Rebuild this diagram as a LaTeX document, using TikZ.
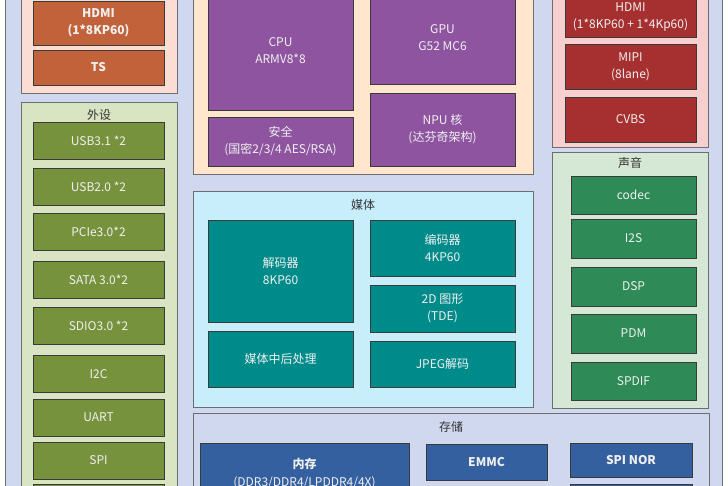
\documentclass[tikz,border=0pt]{standalone}
\usepackage{fontspec}
\setmainfont{Noto Sans CJK SC}
\usetikzlibrary{positioning}
\definecolor{socbg}{HTML}{D0D8F0}
\definecolor{panebd}{HTML}{6E6E6E}
\definecolor{blkbd}{HTML}{3A3A3A}
\definecolor{blktext}{HTML}{F0F0F0}
\definecolor{ttlink}{HTML}{333333}
\definecolor{vidlbg}{HTML}{FBDDD3}
\definecolor{vidlfill}{HTML}{C2623A}
\definecolor{vidrbg}{HTML}{F8CFCF}
\definecolor{vidrfill}{HTML}{A63030}
\definecolor{corebg}{HTML}{FFE6CC}
\definecolor{corefill}{HTML}{8E54A0}
\definecolor{perbg}{HTML}{D8E4C2}
\definecolor{perfill}{HTML}{76923C}
\definecolor{audbg}{HTML}{D5E8D6}
\definecolor{audfill}{HTML}{2E8B57}
\definecolor{medbg}{HTML}{C8EEFC}
\definecolor{medfill}{HTML}{008B8B}
\definecolor{memfill}{HTML}{3460A0}
\tikzset{
  pane/.style={draw=panebd, line width=0.9pt, inner sep=0pt, anchor=north west},
  ttl/.style={font=\fontsize{12}{15}\selectfont, text=ttlink},
  blk/.style={draw=blkbd, line width=0.9pt, align=center, inner sep=0pt,
    font=\fontsize{12}{17}\selectfont, text=blktext},
  vidlbox/.style={blk, fill=vidlfill, font=\fontsize{12}{17}\selectfont\bfseries, minimum width=131},
  vidrbox/.style={blk, fill=vidrfill, minimum width=131},
  corebox/.style={blk, fill=corefill, minimum width=145},
  perbox/.style={blk, fill=perfill, minimum width=131, minimum height=37},
  audbox/.style={blk, fill=audfill, minimum width=125, minimum height=39},
  medbox/.style={blk, fill=medfill, minimum width=145},
  membox/.style={blk, fill=memfill, font=\fontsize{12}{18}\selectfont\bfseries}
}

\begin{document}
\begin{tikzpicture}[x=1pt, y=-1pt]
\clip (0,0) rectangle (728,485);
% soc outline and panes
\node[pane, fill=socbg, minimum width=717, minimum height=520] (soc) at (5,-10) {};
\node[pane, fill=vidlbg, minimum width=156, minimum height=103] (vidl) at (21,-10) {};
\node[pane, fill=perbg, minimum width=156, minimum height=400] (per) at (21,102) {};
\node[pane, fill=corebg, minimum width=340, minimum height=184] (core) at (193,-10) {};
\node[pane, fill=vidrbg, minimum width=156, minimum height=157] (vidr) at (552,-10) {};
\node[pane, fill=audbg, minimum width=156, minimum height=256] (aud) at (552,152) {};
\node[pane, fill=medbg, minimum width=340, minimum height=216] (med) at (193,191) {};
\node[pane, fill=socbg, minimum width=516, minimum height=100] (mem) at (193,413) {};
\node[ttl] (perT) at (99,115) {外设};
\node[ttl] (audT) at (630,163) {声音};
\node[ttl] (medT) at (363,205) {媒体};
\node[ttl] (memT) at (451,427) {存储};

% video out, left
\node[vidlbox, minimum height=44] (hdmiA) at (98.5,23) {HDMI\\(1*8KP60)};
\node[vidlbox, minimum height=35] (ts) at (98.5,67.5) {TS};

% cpu core
\node[corebox, minimum height=118] (cpu) at (280.5,51) {CPU\\ARMV8*8};
\node[corebox, minimum height=49] (sec) at (280.5,141.5) {安全\\(国密2/3/4 AES/RSA)};
\node[corebox, minimum height=92] (gpu) at (442.5,38) {GPU\\G52 MC6};
\node[corebox, minimum height=73] (npu) at (442.5,129.5) {NPU 核\\(达芬奇架构)};

% video out, right
\node[vidrbox, minimum height=41] (hdmiB) at (630.5,16.5) {HDMI\\(1*8KP60 + 1*4Kp60)};
\node[vidrbox, minimum height=45] (mipi) at (630.5,66.5) {MIPI\\(8lane)};
\node[vidrbox, minimum height=45] (cvbs) at (630.5,119.5) {CVBS};

% peripherals
\node[perbox] (usb3) at (98.5,141) {USB3.1 *2};
\node[perbox] (usb2) at (98.5,187) {USB2.0 *2};
\node[perbox] (pcie) at (98.5,231.5) {PCIe3.0*2};
\node[perbox] (sata) at (98.5,280) {SATA 3.0*2};
\node[perbox] (sdio) at (98.5,326) {SDIO3.0 *2};
\node[perbox] (iic) at (98.5,374) {I2C};
\node[perbox] (uart) at (98.5,417.5) {UART};
\node[perbox] (spi) at (98.5,460.5) {SPI};
\node[perbox, anchor=north] (perX) at (98.5,484) {};

% audio
\node[audbox, minimum height=38] (codec) at (633.5,195) {codec};
\node[audbox] (iis) at (633.5,238.5) {I2S};
\node[audbox] (dsp) at (633.5,286.5) {DSP};
\node[audbox] (pdm) at (633.5,333.5) {PDM};
\node[audbox, minimum height=38] (spdif) at (633.5,381) {SPDIF};

% media
\node[medbox, minimum height=102] (dec) at (280.5,271) {解码器\\8KP60};
\node[medbox, minimum height=56] (post) at (280.5,359) {媒体中后处理};
\node[medbox, minimum height=56] (enc) at (442.5,248) {编码器\\4KP60};
\node[medbox, minimum height=47] (tde) at (442.5,308.5) {2D 图形\\(TDE)};
\node[medbox, minimum height=46] (jpeg) at (442.5,364) {JPEG解码};

% storage
\node[membox, minimum width=209, minimum height=62] (ddr) at (304.5,474) {内存\\\mdseries(DDR3/DDR4/LPDDR4/4X)};
\node[membox, minimum width=121, minimum height=36] (emmc) at (486.5,462) {EMMC};
\node[membox, minimum width=122, minimum height=34] (nor) at (631,460) {SPI NOR};
\node[membox, minimum width=122, minimum height=34, anchor=north] (memX) at (631,484) {};
\end{tikzpicture}
\end{document}
